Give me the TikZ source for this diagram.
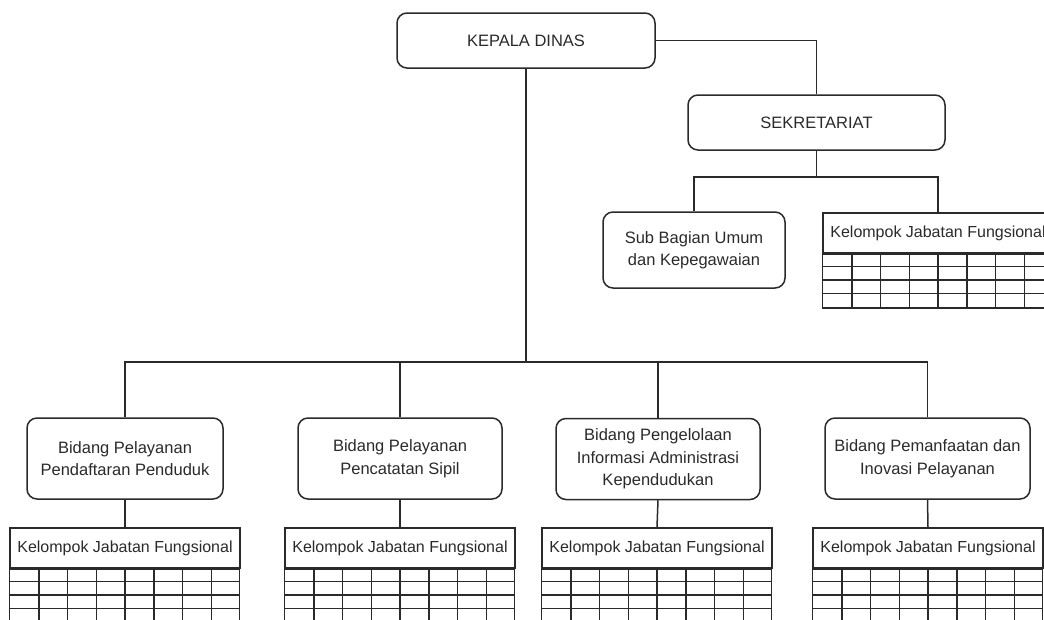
\documentclass[tikz,border=0pt]{standalone}
\usepackage{fontspec}
\setmainfont{Liberation Sans}
\usetikzlibrary{positioning}
\definecolor{ink}{HTML}{2A2A2A}

\begin{document}
\begin{tikzpicture}
[x=1pt,y=-1pt,line width=1.5pt,draw=ink,
unit/.style = {draw=ink, rounded corners=10pt, align=center, text=ink, inner sep=0pt, font=\fontsize{16.5}{22.5}\selectfont},
kjf/.style = {draw=ink, minimum width=230pt, minimum height=40pt, inner sep=0pt, text=ink, font=\fontsize{16}{19}\selectfont},]
\clip (0,0) rectangle (1044,619);

\node (kd) at (526,40.5)[unit,minimum width=258pt,minimum height=55pt] {KEPALA DINAS};
\node (sek) at (816.5,122.5)[unit,minimum width=257pt,minimum height=55pt] {SEKRETARIAT};
\node (sub) at (694,250)[unit,minimum width=182pt,minimum height=76pt] {Sub Bagian Umum\\dan Kepegawaian};

\node (b1) at (125,458.5)[unit,minimum width=196pt,minimum height=81pt] {Bidang Pelayanan\\Pendaftaran Penduduk};
\node (b2) at (400,458.5)[unit,minimum width=204pt,minimum height=81pt] {Bidang Pelayanan\\Pencatatan Sipil};
\node (b3) at (658,459)[unit,minimum width=204pt,minimum height=81pt] {Bidang Pengelolaan\\Informasi Administrasi\\Kependudukan};
\node (b4) at (927.5,458.5)[unit,minimum width=205pt,minimum height=81pt] {Bidang Pemanfaatan dan\\Inovasi Pelayanan};

% kelompok jabatan fungsional
\foreach \nm/\cx/\ty in {kjf0/938/213, kjf1/125/528, kjf2/400/528, kjf3/657/528, kjf4/928/528} {
  \node (\nm) at (\cx,\ty+20)[kjf] {Kelompok Jabatan Fungsional};
  \draw (\nm.south west) rectangle ++(230,54);
  \foreach \i in {1,...,7} \draw (\cx-115+\i*28.75,\ty+40) -- ++(0,54);
  \foreach \j in {1,...,3} \draw (\cx-115,\ty+40+\j*13.5) -- ++(230,0);
}

\coordinate (bus) at (526,362);
\coordinate (sbus) at (816.5,177);

\draw (kd.east) -| (sek.north);
\draw (sek.south) -- (sbus);
\draw (sub.north) |- (sbus) -| (kjf0.north);

\draw (kd.south) -- (bus);
\draw (b1.north) |- (bus);
\draw (b4.north) |- (bus);
\draw (b2.north) -- (b2.north |- bus);
\draw (b3.north) -- (b3.north |- bus);

\draw (b1.south) -- (kjf1.north);
\draw (b2.south) -- (kjf2.north);
\draw (b3.south) -- (kjf3.north);
\draw (b4.south) -- (kjf4.north);
\end{tikzpicture}
\end{document}
